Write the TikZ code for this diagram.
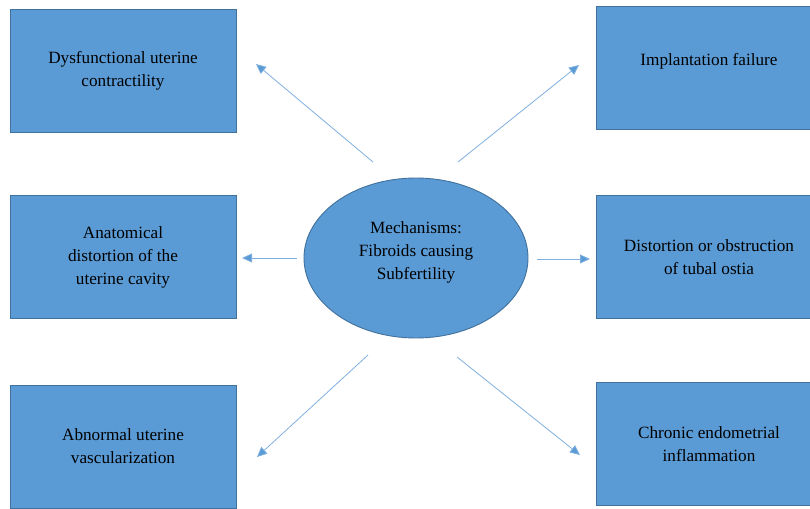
\documentclass[tikz,border=0pt]{standalone}
\usepackage{fontspec}
\setmainfont{Liberation Serif}
\usetikzlibrary{arrows.meta, shapes.geometric}
\definecolor{boxblue}{HTML}{5B9BD5}
\definecolor{edgeblue}{HTML}{41719C}
\definecolor{arrowblue}{HTML}{7FAFDF}

\begin{document}
\begin{tikzpicture}[x=1pt, y=-1pt,
    mechbox/.style={rectangle, draw=edgeblue, line width=0.9pt, fill=boxblue, minimum width=226pt, minimum height=123pt, align=center, font=\rmfamily\fontsize{17.2}{23}\selectfont},
    mechell/.style={ellipse, draw=edgeblue, line width=0.9pt, fill=boxblue, minimum width=224pt, minimum height=160pt},
    mechtext/.style={align=center, font=\rmfamily\fontsize{17.2}{23}\selectfont},
    mecharr/.style={draw=arrowblue, line width=0.8pt, -{Triangle[length=10pt, width=9pt, fill=boxblue]}}]
                    \useasboundingbox (0,0) rectangle (810,508);
                    % centre
                    \node[mechell, label={[mechtext, yshift=5.5pt]center:{Mechanisms:\\Fibroids causing\\Subfertility}}](ell) at (416,258){};

                    % left column
                    \node[mechbox](lt) at (123,70.5){Dysfunctional uterine\\contractility};
                    \node[mechbox](lm) at (123,257){Anatomical\\distortion of the\\uterine cavity};
                    \node[mechbox](lb) at (123,446.5){Abnormal uterine\\vascularization};

                    % right column
                    \node[mechbox, label={[mechtext, yshift=6.5pt]center:{Implantation failure}}](rt) at (709,68){};
                    \node[mechbox](rm) at (709,257){Distortion or obstruction\\of tubal ostia};
                    \node[mechbox](rb) at (709,444){Chronic endometrial\\inflammation};

                    % arrow ends
                    \coordinate(tlt) at (373,162);
                    \coordinate(hlt) at (256,64);
                    \coordinate(tlm) at (297,258);
                    \coordinate(hlm) at (242,258);
                    \coordinate(tlb) at (368,355);
                    \coordinate(hlb) at (257,457);
                    \coordinate(trt) at (458,162);
                    \coordinate(hrt) at (579,65);
                    \coordinate(trm) at (537,259);
                    \coordinate(hrm) at (590,259);
                    \coordinate(trb) at (457,357);
                    \coordinate(hrb) at (580,455);

                    \draw[mecharr] (tlt) -- (hlt);
                    \draw[mecharr] (tlm) -- (hlm);
                    \draw[mecharr] (tlb) -- (hlb);
                    \draw[mecharr] (trt) -- (hrt);
                    \draw[mecharr] (trm) -- (hrm);
                    \draw[mecharr] (trb) -- (hrb);
\end{tikzpicture}
\end{document}
